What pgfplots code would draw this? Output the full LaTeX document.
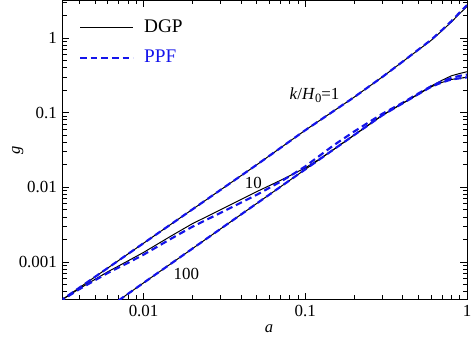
\documentclass[border=0pt]{standalone}
\usepackage{fontspec}
\setmainfont{Liberation Serif}
\usepackage{pgfplots}
\pgfplotsset{compat=1.18}
\usetikzlibrary{calc}
\definecolor{ppfblue}{RGB}{20,20,235}

\begin{document}
\begin{tikzpicture}
\begin{axis}[
  name=ax,
  scale only axis, width=243.6pt, height=180pt,
  xmode=log, ymode=log,
  xmin=0.003162, xmax=1, ymin=3.162e-4, ymax=3.162,
  xtick={0.01,0.1,1}, xticklabels={0.01,0.1,1},
  ytick={0.001,0.01,0.1,1}, yticklabels={0.001,0.01,0.1,1},
  minor xtick={0.004,0.005,0.006,0.007,0.008,0.009,0.02,0.03,0.04,0.05,0.06,0.07,0.08,0.09,0.2,0.3,0.4,0.5,0.6,0.7,0.8,0.9},
  minor ytick={0.0004,0.0005,0.0006,0.0007,0.0008,0.0009,0.002,0.003,0.004,0.005,0.006,0.007,0.008,0.009,0.02,0.03,0.04,0.05,0.06,0.07,0.08,0.09,0.2,0.3,0.4,0.5,0.6,0.7,0.8,0.9,2,3},
  tick align=inside, major tick length=4pt, minor tick length=2.3pt,
  tick style={black, line width=0.4pt},
  axis line style={black, line width=0.6pt},
  /pgf/number format/assume math mode=true,
  tick label style={font=\fontsize{10.2}{12}\selectfont},
  xlabel={\textit{a}}, ylabel={\textit{g}},
  label style={font=\fontsize{14}{16}\selectfont},
  every axis x label/.style={at={(axis description cs:0.51,-0.1)}, anchor=center},
  every axis y label/.style={at={(axis description cs:-0.111,0.5)}, anchor=center, rotate=90},
  legend style={at={(0.027,0.958)}, anchor=north west, draw=none, fill=none,
    font=\fontsize{11.6}{14}\selectfont, row sep=5pt},
  legend cell align=left,
  legend image code/.code={\draw[#1] (0pt,0pt) -- (32pt,0pt);},
]
% k/H0 = 1
\addplot[black, line width=0.6pt] coordinates
  {(0.003,2.92e-4)(0.005,6.29e-4)(0.01,1.78e-3)(0.02,5.03e-3)(0.05,0.0199)(0.1,0.058)(0.2,0.160)(0.3,0.30)(0.4,0.48)(0.5,0.689)(0.6,0.925)(0.7,1.245)(0.8,1.63)(0.9,2.11)(1.0,2.63)};
\addplot[ppfblue, line width=1.3pt, dash pattern=on 4pt off 2.4pt] coordinates
  {(0.003,2.92e-4)(0.005,6.29e-4)(0.01,1.78e-3)(0.02,5.03e-3)(0.05,0.0199)(0.1,0.058)(0.2,0.160)(0.3,0.30)(0.4,0.48)(0.5,0.695)(0.6,0.94)(0.7,1.27)(0.8,1.67)(0.9,2.18)(1.0,2.74)};
% k/H0 = 10
\addplot[black, line width=0.6pt, forget plot] coordinates
  {(0.003,2.92e-4)(0.004,4.37e-4)(0.006,7.36e-4)(0.008,1.03e-3)(0.01,1.34e-3)(0.015,2.26e-3)(0.02,3.24e-3)(0.03,5.0e-3)(0.05,8.71e-3)(0.07,0.0123)(0.085,0.0152)(0.1,0.01816)(0.12,0.02318)(0.15,0.0321)(0.2,0.0497)(0.3,0.092)(0.4,0.133)(0.5,0.177)(0.6,0.226)(0.7,0.27)(0.8,0.31)(0.9,0.333)(1.0,0.352)};
\addplot[ppfblue, line width=1.3pt, dash pattern=on 4pt off 2.4pt, forget plot] coordinates
  {(0.003,2.9e-4)(0.004,4.3e-4)(0.006,7.1e-4)(0.008,9.7e-4)(0.01,1.25e-3)(0.015,2.08e-3)(0.02,2.95e-3)(0.03,4.55e-3)(0.05,7.9e-3)(0.07,0.0118)(0.085,0.0152)(0.1,0.0190)(0.12,0.0255)(0.15,0.0365)(0.2,0.0555)(0.3,0.0965)(0.4,0.135)(0.5,0.180)(0.6,0.225)(0.7,0.262)(0.8,0.29)(0.9,0.31)(1.0,0.322)};
% k/H0 = 100
\addplot[black, line width=0.6pt, forget plot] coordinates
  {(0.007,3.04e-4)(0.01,5.24e-4)(0.02,1.50e-3)(0.05,6.04e-3)(0.07,0.01007)(0.1,0.01734)(0.12,0.02286)(0.15,0.0321)(0.2,0.0497)(0.3,0.092)(0.4,0.1327)(0.5,0.176)(0.6,0.221)(0.7,0.253)(0.8,0.277)(0.9,0.287)(1.0,0.296)};
\addplot[ppfblue, line width=1.3pt, dash pattern=on 4pt off 2.4pt, forget plot] coordinates
  {(0.007,3.04e-4)(0.01,5.24e-4)(0.02,1.50e-3)(0.05,6.04e-3)(0.07,0.01007)(0.1,0.01734)(0.12,0.02286)(0.15,0.0321)(0.2,0.0497)(0.3,0.092)(0.4,0.1327)(0.5,0.176)(0.6,0.221)(0.7,0.253)(0.8,0.277)(0.9,0.287)(1.0,0.296)};
\legend{\hspace{4pt}DGP, \hspace{4pt}\textcolor{ppfblue}{PPF}}
\node[font=\fontsize{10.2}{12}\selectfont] at (axis cs:0.114,0.172) {\textit{k}/\textit{H}\raisebox{-0.35ex}{\fontsize{7.6}{9}\selectfont 0}=1};
\node[font=\fontsize{10.2}{12}\selectfont] at (axis cs:0.0478,0.01155) {10};
\node[font=\fontsize{10.2}{12}\selectfont] at (axis cs:0.0184,6.86e-4) {100};
\end{axis}
\pgfresetboundingbox
\path ($(ax.south west)+(-37.8pt,-27.6pt)$) rectangle ($(ax.north east)+(2.4pt,0.3pt)$);
\end{tikzpicture}
\end{document}
